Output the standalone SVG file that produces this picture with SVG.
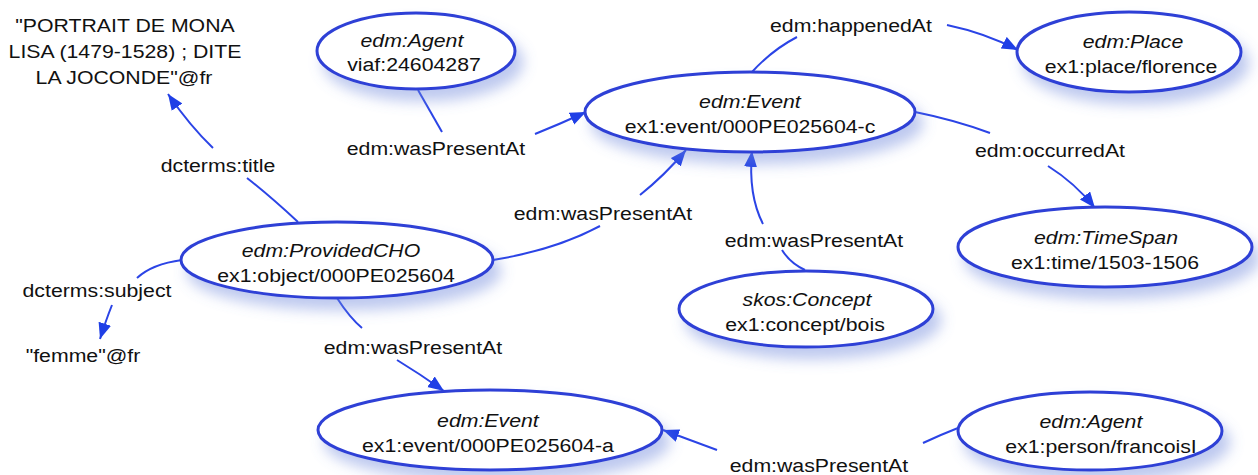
<svg xmlns="http://www.w3.org/2000/svg" width="1258" height="475" viewBox="0 0 1258 475">
<style>
text{font-family:"Liberation Sans",Arial,sans-serif;font-size:19px;fill:#111;text-anchor:middle;transform-box:fill-box;transform-origin:center;transform:scaleX(1.12)}
.i{font-style:italic}
.n{fill:#fff;stroke:#2f40d6;stroke-width:3;filter:url(#sh)}
.e{fill:none;stroke:#2b44e6;stroke-width:2}
.a{marker-end:url(#ah)}
</style>
<defs>
<filter id="sh" x="-30%" y="-30%" width="170%" height="190%">
<feDropShadow dx="7" dy="11" stdDeviation="7" flood-color="#6d86dc" flood-opacity="0.45"/>
</filter>
<marker id="ah" markerUnits="userSpaceOnUse" markerWidth="18" markerHeight="14" refX="16" refY="6.5" orient="auto">
<path d="M0,0 L16,6.5 L0,13 z" fill="#1f3fe6"/>
</marker>
</defs>
<rect width="1258" height="475" fill="#fff"/>
<g id="connectors">
<path class="e" d="M298,222 Q270,196 247,178"/>
<path class="e a" d="M213,148 Q190,126 168,94"/>
<text x="218" y="172">dcterms:title</text>
<path class="e" d="M418,90 L442,132"/>
<path class="e a" d="M535,134 Q560,124 586,112"/>
<text x="436" y="155">edm:wasPresentAt</text>
<path class="e" d="M752,72 Q772,50 797,37"/>
<path class="e a" d="M947,25 Q985,33 1018,50"/>
<text x="851" y="32">edm:happenedAt</text>
<path class="e" d="M915,112 Q955,120 990,133"/>
<path class="e a" d="M1048,166 Q1075,183 1095,208"/>
<text x="1050" y="157">edm:occurredAt</text>
<path class="e" d="M493,260 Q555,250 600,226"/>
<path class="e a" d="M640,195 Q665,175 686,150"/>
<text x="603" y="220">edm:wasPresentAt</text>
<path class="e" d="M782,250 Q790,263 805,270"/>
<path class="e a" d="M763,224 Q748,195 752,151"/>
<text x="814" y="247">edm:wasPresentAt</text>
<path class="e" d="M337,298 Q350,318 362,328"/>
<path class="e a" d="M397,360 Q420,374 444,391"/>
<text x="413" y="354">edm:wasPresentAt</text>
<path class="e" d="M958,428 Q940,435 923,443"/>
<path class="e a" d="M717,450 Q690,440 663,430"/>
<text x="819" y="472">edm:wasPresentAt</text>
<path class="e" d="M182,260 Q152,264 137,278"/>
<path class="e a" d="M112,305 Q106,320 100,339"/>
<text x="97" y="297">dcterms:subject</text>
</g>
<g id="title">
<text x="125" y="32">"PORTRAIT DE MONA</text>
<text x="125" y="58">LISA (1479-1528) ; DITE</text>
<text x="124" y="84">LA JOCONDE"@fr</text>
</g>
<g id="femme">
<text x="83" y="362">"femme"@fr</text>
</g>
<g id="agentViaf">
<ellipse class="n" cx="416" cy="51" rx="99" ry="38"/>
<text class="i" x="412" y="47">edm:Agent</text>
<text x="414" y="71">viaf:24604287</text>
</g>
<g id="eventC">
<ellipse class="n" cx="750" cy="112" rx="165" ry="40"/>
<text class="i" x="750" y="108">edm:Event</text>
<text x="750" y="133">ex1:event/000PE025604-c</text>
</g>
<g id="place">
<ellipse class="n" cx="1129" cy="52" rx="112" ry="40"/>
<text class="i" x="1133" y="48">edm:Place</text>
<text x="1131" y="73">ex1:place/florence</text>
</g>
<g id="timespan">
<ellipse class="n" cx="1105" cy="247" rx="147" ry="40"/>
<text class="i" x="1106" y="244">edm:TimeSpan</text>
<text x="1105" y="269">ex1:time/1503-1506</text>
</g>
<g id="cho">
<ellipse class="n" cx="337" cy="260" rx="156" ry="38"/>
<text class="i" x="331" y="257">edm:ProvidedCHO</text>
<text x="336" y="282">ex1:object/000PE025604</text>
</g>
<g id="concept">
<ellipse class="n" cx="806" cy="309" rx="127" ry="38"/>
<text class="i" x="807" y="306">skos:Concept</text>
<text x="805" y="331">ex1:concept/bois</text>
</g>
<g id="eventA">
<ellipse class="n" cx="490" cy="430" rx="172" ry="40"/>
<text class="i" x="488" y="427">edm:Event</text>
<text x="488" y="452">ex1:event/000PE025604-a</text>
</g>
<g id="agentF">
<ellipse class="n" cx="1090" cy="431" rx="132" ry="39"/>
<text class="i" x="1091" y="428">edm:Agent</text>
<text x="1101" y="453">ex1:person/francoisI</text>
</g>
</svg>
